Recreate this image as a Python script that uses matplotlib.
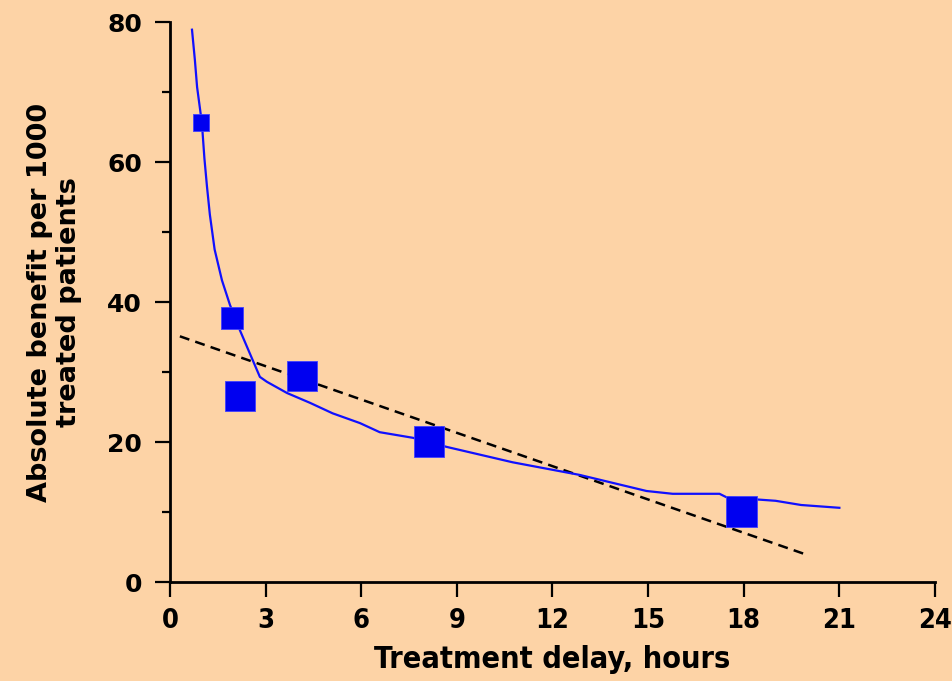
import matplotlib
matplotlib.use("Agg")
import matplotlib.pyplot as plt
from matplotlib.ticker import MultipleLocator

# Data
pt_x = [0.97, 1.94, 2.19, 4.14, 8.12, 17.93]
pt_y = [65.6, 37.7, 26.6, 29.4, 20.1, 10.1]
pt_size = [12, 16, 22, 22, 22, 22]  # square side in points

curve_x = [0.69, 0.78, 0.85, 1.0, 1.08, 1.16, 1.25, 1.4, 1.63, 1.88, 2.19, 2.5, 2.82,
           3.04, 3.67, 4.39, 5.1, 5.96, 6.58, 7.62, 8.68, 10.75, 12.85, 14.95, 15.77,
           17.24, 17.46, 19.0, 19.8, 21.0]
curve_y = [78.9, 74.6, 70.7, 65.6, 60.5, 56.5, 52.5, 47.5, 43.1, 39.6, 36.0, 32.7, 29.3,
           28.6, 27.0, 25.6, 24.1, 22.7, 21.4, 20.6, 19.3, 17.1, 15.3, 13.0, 12.6,
           12.6, 12.1, 11.6, 11.0, 10.6]

trend_x = [0.31, 19.97]
trend_y = [35.1, 3.9]

x_ticks = [0, 3, 6, 9, 12, 15, 18, 21, 24]
y_ticks = [0, 20, 40, 60, 80]

bg = "#FDD3A6"

fig = plt.figure(figsize=(9.53, 6.81), dpi=100, facecolor=bg)
ax = fig.add_axes([170/953, 1-582/681, (935-170)/953, (582-22)/681])
ax.set_facecolor(bg)

ax.plot(trend_x, trend_y, color="black", lw=1.8, dashes=(4, 2.5), zorder=2)
ax.plot(curve_x, curve_y, color="#1010FF", lw=1.6, zorder=3)
ax.scatter(pt_x, pt_y, marker="s", s=[v**2 for v in pt_size], color="#0000F0",
           edgecolors="#4040FF", linewidths=0.6, zorder=4)

ax.set_xlim(0, 24)
ax.set_ylim(0, 80)
for s in ["top", "right"]:
    ax.spines[s].set_visible(False)
for s in ["left", "bottom"]:
    ax.spines[s].set_linewidth(2)
    ax.spines[s].set_color("black")

ax.set_xticks(x_ticks)
ax.set_yticks(y_ticks)
ax.yaxis.set_minor_locator(MultipleLocator(10))
ax.tick_params(axis="x", direction="out", length=11, width=1.6, pad=8)
ax.tick_params(axis="y", which="major", direction="out", length=11, width=1.6, pad=9)
ax.tick_params(axis="y", which="minor", direction="out", length=6, width=1.6)

ax.set_xticklabels([str(v) for v in x_ticks], family="DejaVu Sans", fontstretch="condensed",
                   fontweight="bold", fontsize=19.5)
ax.set_yticklabels([str(v) for v in y_ticks], family="DejaVu Sans", fontweight="bold",
                   fontsize=18)

ax.set_xlabel("Treatment delay, hours", family="DejaVu Sans", fontstretch="condensed",
              fontweight="bold", fontsize=22, labelpad=8)
ax.set_ylabel("Absolute benefit per 1000\ntreated patients", family="DejaVu Sans",
              fontweight="bold", fontsize=19.5, labelpad=18, linespacing=1.15)

fig.savefig("out.png", dpi=100, facecolor=bg)
